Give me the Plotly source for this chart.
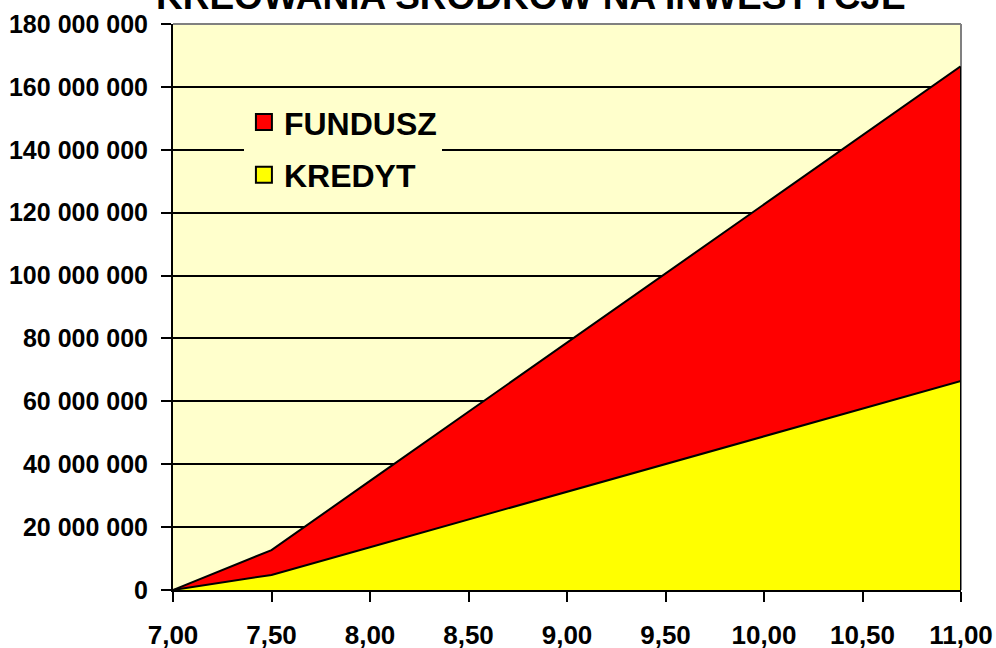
import plotly.graph_objects as go

# dane
x_vals = [7.0, 7.5, 8.0, 8.5, 9.0, 9.5, 10.0, 10.5, 11.0]
kredyt = [0, 4.8e6, 13.6e6, 22.4e6, 31.2e6, 40.1e6, 48.9e6, 57.7e6, 66.5e6]
fundusz = [0, 7.9e6, 21.1e6, 34.3e6, 47.5e6, 60.6e6, 73.7e6, 86.9e6, 100.1e6]
y_ticks = list(range(0, 180_000_001, 20_000_000))
x_ticks = [7.0, 7.5, 8.0, 8.5, 9.0, 9.5, 10.0, 10.5, 11.0]

FONT = "Liberation Sans, Arial"
BG = "#FFFFCC"
YELLOW = "#FFFF00"
RED = "#FF0000"

fig = go.Figure()
fig.add_trace(go.Scatter(
    x=x_vals, y=kredyt, name="KREDYT", stackgroup="s", showlegend=False,
    line=dict(color="black", width=2), fillcolor=YELLOW, mode="lines",
))
fig.add_trace(go.Scatter(
    x=x_vals, y=fundusz, name="FUNDUSZ", stackgroup="s", showlegend=False,
    line=dict(color="black", width=2), fillcolor=RED, mode="lines",
))

# wpisy legendy z kwadratowymi znacznikami
for name, color, grp in [("FUNDUSZ", RED, "a"), ("KREDYT", YELLOW, "b")]:
    fig.add_trace(go.Scatter(
        x=[None], y=[None], name=name, mode="markers", legendgroup=grp,
        marker=dict(symbol="square", size=18, color=color,
                    line=dict(color="black", width=2)),
    ))

total_end = kredyt[-1] + fundusz[-1]

# ramka obszaru wykresu: góra i prawa szara
fig.add_shape(type="line", xref="paper", yref="paper", x0=0, x1=1, y0=1, y1=1,
              line=dict(color="#808080", width=2))
fig.add_shape(type="line", xref="paper", yref="paper", x0=1, x1=1, y0=0, y1=1,
              line=dict(color="#808080", width=2))
# pionowa krawędź serii po prawej
fig.add_shape(type="line", x0=x_vals[-1], x1=x_vals[-1], y0=0, y1=total_end,
              line=dict(color="black", width=2))

# tytuł ucięty u góry, jak w oryginale
fig.add_annotation(
    text="KREOWANIA ŚRODKÓW NA INWESTYCJE", xref="paper", yref="paper",
    x=0.454, y=1.0, yshift=5, showarrow=False, xanchor="center", yanchor="bottom",
    font=dict(family=FONT, size=37, color="black", weight="bold"),
)

fig.update_layout(
    width=996, height=648,
    paper_bgcolor="white", plot_bgcolor=BG,
    margin=dict(l=173, r=35, t=24, b=58),
    font=dict(family=FONT, color="black", size=24, weight="bold"),
    separators=", ",
    showlegend=True,
    legend=dict(
        x=0.09, y=0.875, xanchor="left", yanchor="top",
        bgcolor=BG, tracegroupgap=8,
        font=dict(family=FONT, size=32, color="black", weight="bold"),
    ),
    xaxis=dict(
        range=[7.0, 11.0], tickvals=x_ticks, tickformat=".2f", automargin=False,
        showgrid=False, zeroline=False, showline=True, linecolor="black", linewidth=2,
        ticks="outside", ticklen=10, tickwidth=2, tickcolor="black",
        ticklabelstandoff=11,
        tickfont=dict(family=FONT, size=26, weight="bold"),
    ),
    yaxis=dict(
        range=[0, 180_000_000], tickvals=y_ticks, tickformat=",d", automargin=False,
        showgrid=True, gridcolor="black", gridwidth=2, zeroline=False,
        showline=True, linecolor="black", linewidth=2,
        ticks="outside", ticklen=10, tickwidth=2, tickcolor="black",
        ticklabelstandoff=8,
        tickfont=dict(family=FONT, size=25, weight="bold"),
    ),
)

fig.write_html("out.html", config={"displayModeBar": False},
               post_script="document.body.style.margin='0';")
